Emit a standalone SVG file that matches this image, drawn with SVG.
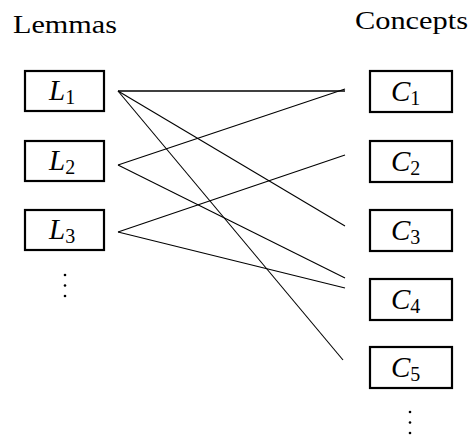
<svg xmlns="http://www.w3.org/2000/svg" width="470" height="440" viewBox="0 0 470 440">
<style>
.box{fill:#fff;stroke:#000;stroke-width:2.2}
.lbl{font-family:'Liberation Serif','DejaVu Serif','Times New Roman',serif;font-size:29px;font-style:italic;fill:#000}
.sub{font-size:20px;font-style:normal}
.hdr{font-family:'Liberation Serif','DejaVu Serif','Times New Roman',serif;font-size:25px;fill:#000}
.edge{stroke:#000;stroke-width:1.1;fill:none}
.dot{fill:#000}
</style>
<rect width="470" height="440" fill="#fff"/>
<text class="hdr" x="13" y="33" textLength="104" lengthAdjust="spacingAndGlyphs">Lemmas</text>
<text class="hdr" x="355" y="29" textLength="113" lengthAdjust="spacingAndGlyphs">Concepts</text>
<g id="connectors">
<line class="edge" x1="118" y1="91" x2="345" y2="91" style="stroke-width:1.6"/>
<line class="edge" x1="118" y1="91" x2="345" y2="226"/>
<line class="edge" x1="118" y1="91" x2="343" y2="360"/>
<line class="edge" x1="118" y1="165" x2="345" y2="89"/>
<line class="edge" x1="118" y1="165" x2="345" y2="278"/>
<line class="edge" x1="118" y1="232" x2="345" y2="155"/>
<line class="edge" x1="118" y1="232" x2="345" y2="288"/>
</g>
<g id="L1"><rect class="box" x="25" y="71" width="79" height="40"/><text class="lbl" x="49" y="100">L<tspan class="sub" dy="4">1</tspan></text></g>
<g id="L2"><rect class="box" x="25" y="141" width="79" height="40"/><text class="lbl" x="49" y="170">L<tspan class="sub" dy="4">2</tspan></text></g>
<g id="L3"><rect class="box" x="25" y="210" width="79" height="40"/><text class="lbl" x="49" y="239">L<tspan class="sub" dy="4">3</tspan></text></g>
<g id="Ldots"><circle class="dot" cx="65" cy="275" r="1.3"/><circle class="dot" cx="65" cy="285.5" r="1.3"/><circle class="dot" cx="65" cy="296" r="1.3"/></g>
<g id="C1"><rect class="box" x="370" y="71" width="82" height="41"/><text class="lbl" x="391" y="101">C<tspan class="sub" dy="4">1</tspan></text></g>
<g id="C2"><rect class="box" x="370" y="141" width="82" height="41"/><text class="lbl" x="391" y="171">C<tspan class="sub" dy="4">2</tspan></text></g>
<g id="C3"><rect class="box" x="370" y="210" width="82" height="41"/><text class="lbl" x="391" y="240">C<tspan class="sub" dy="4">3</tspan></text></g>
<g id="C4"><rect class="box" x="370" y="279" width="82" height="41"/><text class="lbl" x="391" y="309">C<tspan class="sub" dy="4">4</tspan></text></g>
<g id="C5"><rect class="box" x="370" y="347" width="82" height="41"/><text class="lbl" x="391" y="377">C<tspan class="sub" dy="4">5</tspan></text></g>
<g id="Cdots"><circle class="dot" cx="410" cy="412" r="1.3"/><circle class="dot" cx="410" cy="422.5" r="1.3"/><circle class="dot" cx="410" cy="433" r="1.3"/></g>
</svg>
